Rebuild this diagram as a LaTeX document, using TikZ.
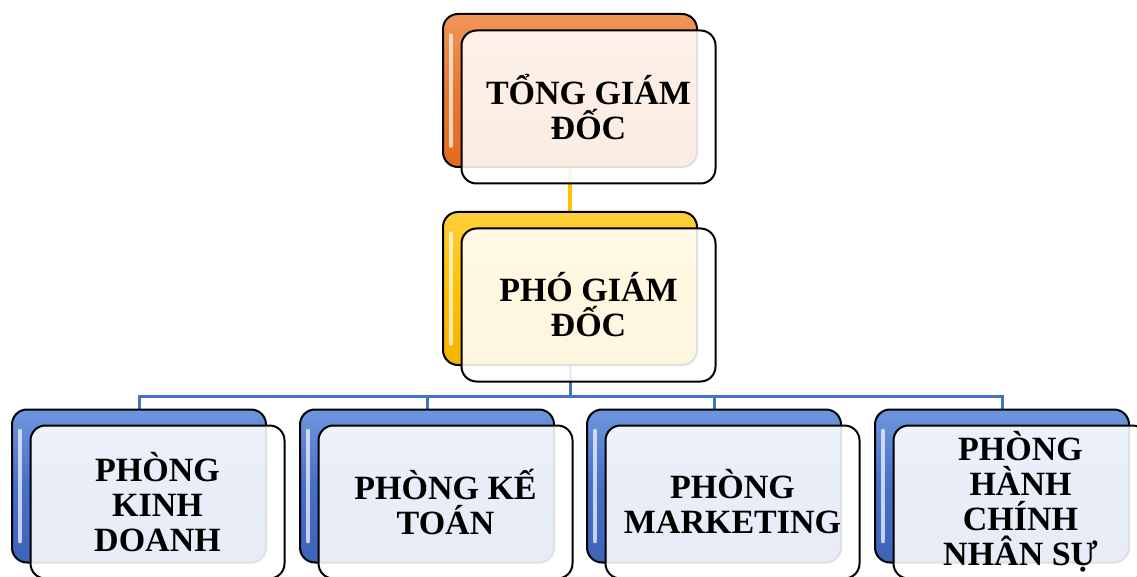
\documentclass[tikz,border=0pt]{standalone}
\usepackage{fontspec}
\setmainfont{Liberation Serif}
\begin{document}
\begin{tikzpicture}[x=1pt,y=-1pt,
  backbox/.style={draw=black,line width=2pt,rounded corners=15pt,minimum width=254pt,minimum height=153pt,inner sep=0pt},
  frontbox/.style={draw=black,line width=2pt,rounded corners=15pt,minimum width=254pt,minimum height=153pt,inner sep=2pt,
     fill=white,fill opacity=0.88,text opacity=1,align=center,font=\bfseries\fontsize{34}{35}\selectfont},
  orangeback/.style={backbox,top color={rgb,255:red,240;green,150;blue,90},bottom color={rgb,255:red,226;green,108;blue,30},middle color={rgb,255:red,232;green,120;blue,45}},
  yellowback/.style={backbox,top color={rgb,255:red,255;green,208;blue,60},bottom color={rgb,255:red,245;green,180;blue,0},middle color={rgb,255:red,255;green,192;blue,0}},
  blueback/.style={backbox,top color={rgb,255:red,110;green,150;blue,222},bottom color={rgb,255:red,60;green,100;blue,185},middle color={rgb,255:red,70;green,112;blue,198}},
  shine/.style={white,line width=3.5pt,line cap=round,opacity=0.7},
  goldline/.style={draw={rgb,255:red,255;green,192;blue,0},line width=3.5pt},
  blueline/.style={draw={rgb,255:red,68;green,114;blue,196},line width=3pt}
]
\useasboundingbox (0,0) rectangle (1137,577);
\clip (0,0) rectangle (1137,577);
\fill[white] (0,0) rectangle (1137,577);

\coordinate (ptop) at (570,90.5);
\coordinate (pmid) at (570,288.5);
\coordinate (bus) at (570,396);

% invisible anchors for connectors (drawn under the boxes)
\node[backbox,draw=none] (topback0) at (ptop) {};
\node[backbox,draw=none] (midback0) at (pmid) {};
\node[backbox,draw=none] (b1back0) at (139,486) {};
\node[backbox,draw=none] (b2back0) at (427,486) {};
\node[backbox,draw=none] (b3back0) at (714,486) {};
\node[backbox,draw=none] (b4back0) at (1002,486) {};
\draw[goldline] (topback0.south) -- (midback0.north);
\draw[blueline] (midback0.south) -- (bus);
\draw[blueline] (b1back0.north) |- (bus);
\draw[blueline] (b2back0.north) |- (bus);
\draw[blueline] (b3back0.north) |- (bus);
\draw[blueline] (b4back0.north) |- (bus);

% top
\node[orangeback] (topback) at (ptop) {};
\draw[shine] ([shift={(9,22)}]topback.north west) -- ([shift={(9,-22)}]topback.south west);
\node[frontbox] (topfront) at (588.5,107) {TỔNG GIÁM\\ĐỐC};

% middle
\node[yellowback] (midback) at (pmid) {};
\draw[shine] ([shift={(9,22)}]midback.north west) -- ([shift={(9,-22)}]midback.south west);
\node[frontbox] (midfront) at (588.5,305) {PHÓ GIÁM\\ĐỐC};

% bottom row
\node[blueback] (b1back) at (139,486) {};
\draw[shine] ([shift={(9,22)}]b1back.north west) -- ([shift={(9,-22)}]b1back.south west);
\node[frontbox] (b1front) at (157.5,502) {PHÒNG\\KINH\\DOANH};

\node[blueback] (b2back) at (427,486) {};
\draw[shine] ([shift={(9,22)}]b2back.north west) -- ([shift={(9,-22)}]b2back.south west);
\node[frontbox] (b2front) at (445.5,502) {PHÒNG KẾ\\TOÁN};

\node[blueback] (b3back) at (714,486) {};
\draw[shine] ([shift={(9,22)}]b3back.north west) -- ([shift={(9,-22)}]b3back.south west);
\node[frontbox] (b3front) at (732.5,502) {PHÒNG\\MARKETING};

\node[blueback] (b4back) at (1002,486) {};
\draw[shine] ([shift={(9,22)}]b4back.north west) -- ([shift={(9,-22)}]b4back.south west);
\node[frontbox] (b4front) at (1020.5,502) {PHÒNG\\HÀNH\\CHÍNH\\NHÂN SỰ};
\end{tikzpicture}
\end{document}
